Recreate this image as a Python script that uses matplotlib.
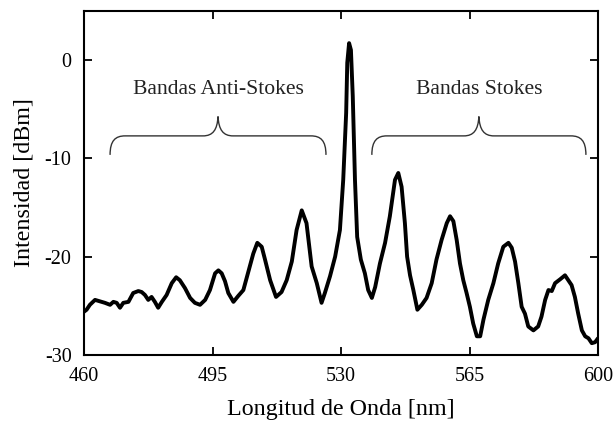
import matplotlib.pyplot as plt
from matplotlib.path import Path
from matplotlib.patches import PathPatch

plt.rcParams['font.family'] = ['Liberation Serif']
plt.rcParams['font.size'] = 15
plt.rcParams['axes.unicode_minus'] = False

# espectro medido: longitud de onda [nm] e intensidad [dBm]
wavelength = [460.0, 460.7, 461.6, 463.0, 463.9, 464.8, 465.7, 467.1, 468.0, 468.9,
              469.8, 470.7, 472.1, 473.4, 474.8, 475.7, 476.6, 477.5, 478.4, 479.3,
              480.2, 481.2, 482.5, 483.9, 485.1, 486.1, 487.5, 488.9, 490.2, 491.6,
              493.0, 494.3, 495.7, 496.6, 497.5, 498.4, 499.3, 500.7, 502.0, 503.4,
              504.8, 506.1, 507.2, 508.4, 509.3, 510.7, 512.3, 513.8, 515.2, 516.6,
              517.9, 519.3, 520.6, 522.0, 523.4, 524.7, 525.6, 527.0, 528.4, 529.7,
              530.6, 531.4, 531.7, 532.2, 532.7, 533.2, 533.8, 534.4, 535.4, 536.5,
              537.4, 538.4, 539.3, 540.6, 542.0, 543.3, 544.7, 545.6, 546.5, 547.4,
              548.0, 548.8, 549.7, 550.8, 552.0, 553.3, 554.7, 556.0, 557.4, 558.8,
              559.7, 560.6, 561.5, 562.4, 563.3, 564.2, 565.1, 566.0, 567.0, 567.9,
              568.8, 570.1, 571.5, 572.8, 574.2, 575.6, 576.5, 577.4, 578.3, 579.2,
              580.1, 581.0, 582.4, 583.7, 584.6, 585.6, 586.5, 587.4, 588.3, 589.7,
              591.0, 591.9, 592.8, 593.7, 594.6, 595.6, 596.5, 597.4, 598.3, 599.2,
              600.0]
intensity = [-25.6, -25.4, -24.9, -24.4, -24.5, -24.6, -24.7, -24.9, -24.6, -24.7,
             -25.2, -24.7, -24.6, -23.7, -23.5, -23.6, -23.9, -24.4, -24.1, -24.6,
             -25.2, -24.6, -23.9, -22.7, -22.1, -22.4, -23.2, -24.2, -24.7, -24.9,
             -24.4, -23.4, -21.7, -21.4, -21.7, -22.5, -23.7, -24.6, -24.0, -23.4,
             -21.5, -19.7, -18.6, -19.0, -20.3, -22.4, -24.1, -23.6, -22.4, -20.5,
             -17.3, -15.3, -16.6, -21.0, -22.7, -24.7, -23.7, -22.0, -20.0, -17.3,
             -12.2, -5.4, -0.3, 1.7, 1.0, -3.7, -12.2, -18.0, -20.3, -21.7,
             -23.4, -24.2, -23.1, -20.7, -18.6, -15.9, -12.2, -11.5, -12.9, -16.6,
             -20.0, -21.9, -23.4, -25.4, -24.9, -24.2, -22.7, -20.3, -18.3, -16.6,
             -15.9, -16.4, -18.3, -20.7, -22.4, -23.7, -25.1, -26.8, -28.1, -28.1,
             -26.4, -24.4, -22.7, -20.7, -19.0, -18.6, -19.1, -20.5, -22.7, -25.1,
             -25.8, -27.1, -27.5, -27.1, -26.1, -24.4, -23.4, -23.5, -22.7, -22.3,
             -21.9, -22.4, -22.9, -24.1, -25.8, -27.5, -28.1, -28.3, -28.8, -28.7,
             -28.3]

xticks = [460, 495, 530, 565, 600]
yticks = [-30, -20, -10, 0]


def brace(ax, x0, x1, y_end, y_mid, y_tip, r):
    # llave horizontal abierta hacia abajo, con el pico en el centro
    xc = 0.5 * (x0 + x1)
    verts = [(x0, y_end), (x0, y_mid - 0.25 * (y_mid - y_end)), (x0 + 0.35 * r, y_mid), (x0 + r, y_mid),
             (xc - r, y_mid),
             (xc - 0.35 * r, y_mid), (xc - 0.05 * r, y_mid + 0.3 * (y_tip - y_mid)), (xc, y_tip),
             (xc + 0.05 * r, y_mid + 0.3 * (y_tip - y_mid)), (xc + 0.35 * r, y_mid), (xc + r, y_mid),
             (x1 - r, y_mid),
             (x1 - 0.35 * r, y_mid), (x1, y_mid - 0.25 * (y_mid - y_end)), (x1, y_end)]
    codes = [Path.MOVETO, Path.CURVE4, Path.CURVE4, Path.CURVE4,
             Path.LINETO,
             Path.CURVE4, Path.CURVE4, Path.CURVE4,
             Path.CURVE4, Path.CURVE4, Path.CURVE4,
             Path.LINETO,
             Path.CURVE4, Path.CURVE4, Path.CURVE4]
    ax.add_patch(PathPatch(Path(verts, codes), fill=False, lw=1.0, color='#333333'))


fig = plt.figure(figsize=(6.15, 4.26), dpi=100)
ax = fig.add_axes([0.1366, 0.1667, 0.8358, 0.8083])

ax.plot(wavelength, intensity, color='black', linewidth=2.8,
        solid_joinstyle='round', solid_capstyle='round')

brace(ax, 467.1, 525.9, -9.66, -7.73, -5.76, 4.1)
brace(ax, 538.4, 596.7, -9.66, -7.73, -5.76, 4.1)
ax.text(496.6, -3.05, 'Bandas Anti-Stokes', ha='center', va='center', color='#222222', fontsize=15.6)
ax.text(567.6, -3.05, 'Bandas Stokes', ha='center', va='center', color='#222222', fontsize=15.6)

ax.set_xlim(460, 600)
ax.set_ylim(-30, 5)
ax.set_xticks(xticks)
ax.set_yticks(yticks)
ax.tick_params(direction='in', length=6, width=1.3, top=True, right=True,
               labelsize=14.5, pad=9)
for sp in ax.spines.values():
    sp.set_linewidth(1.5)

ax.set_xlabel('Longitud de Onda [nm]', fontsize=17.3, labelpad=9)
ax.set_ylabel('Intensidad [dBm]', fontsize=17.3, labelpad=7)

fig.savefig('out.png', dpi=100)
